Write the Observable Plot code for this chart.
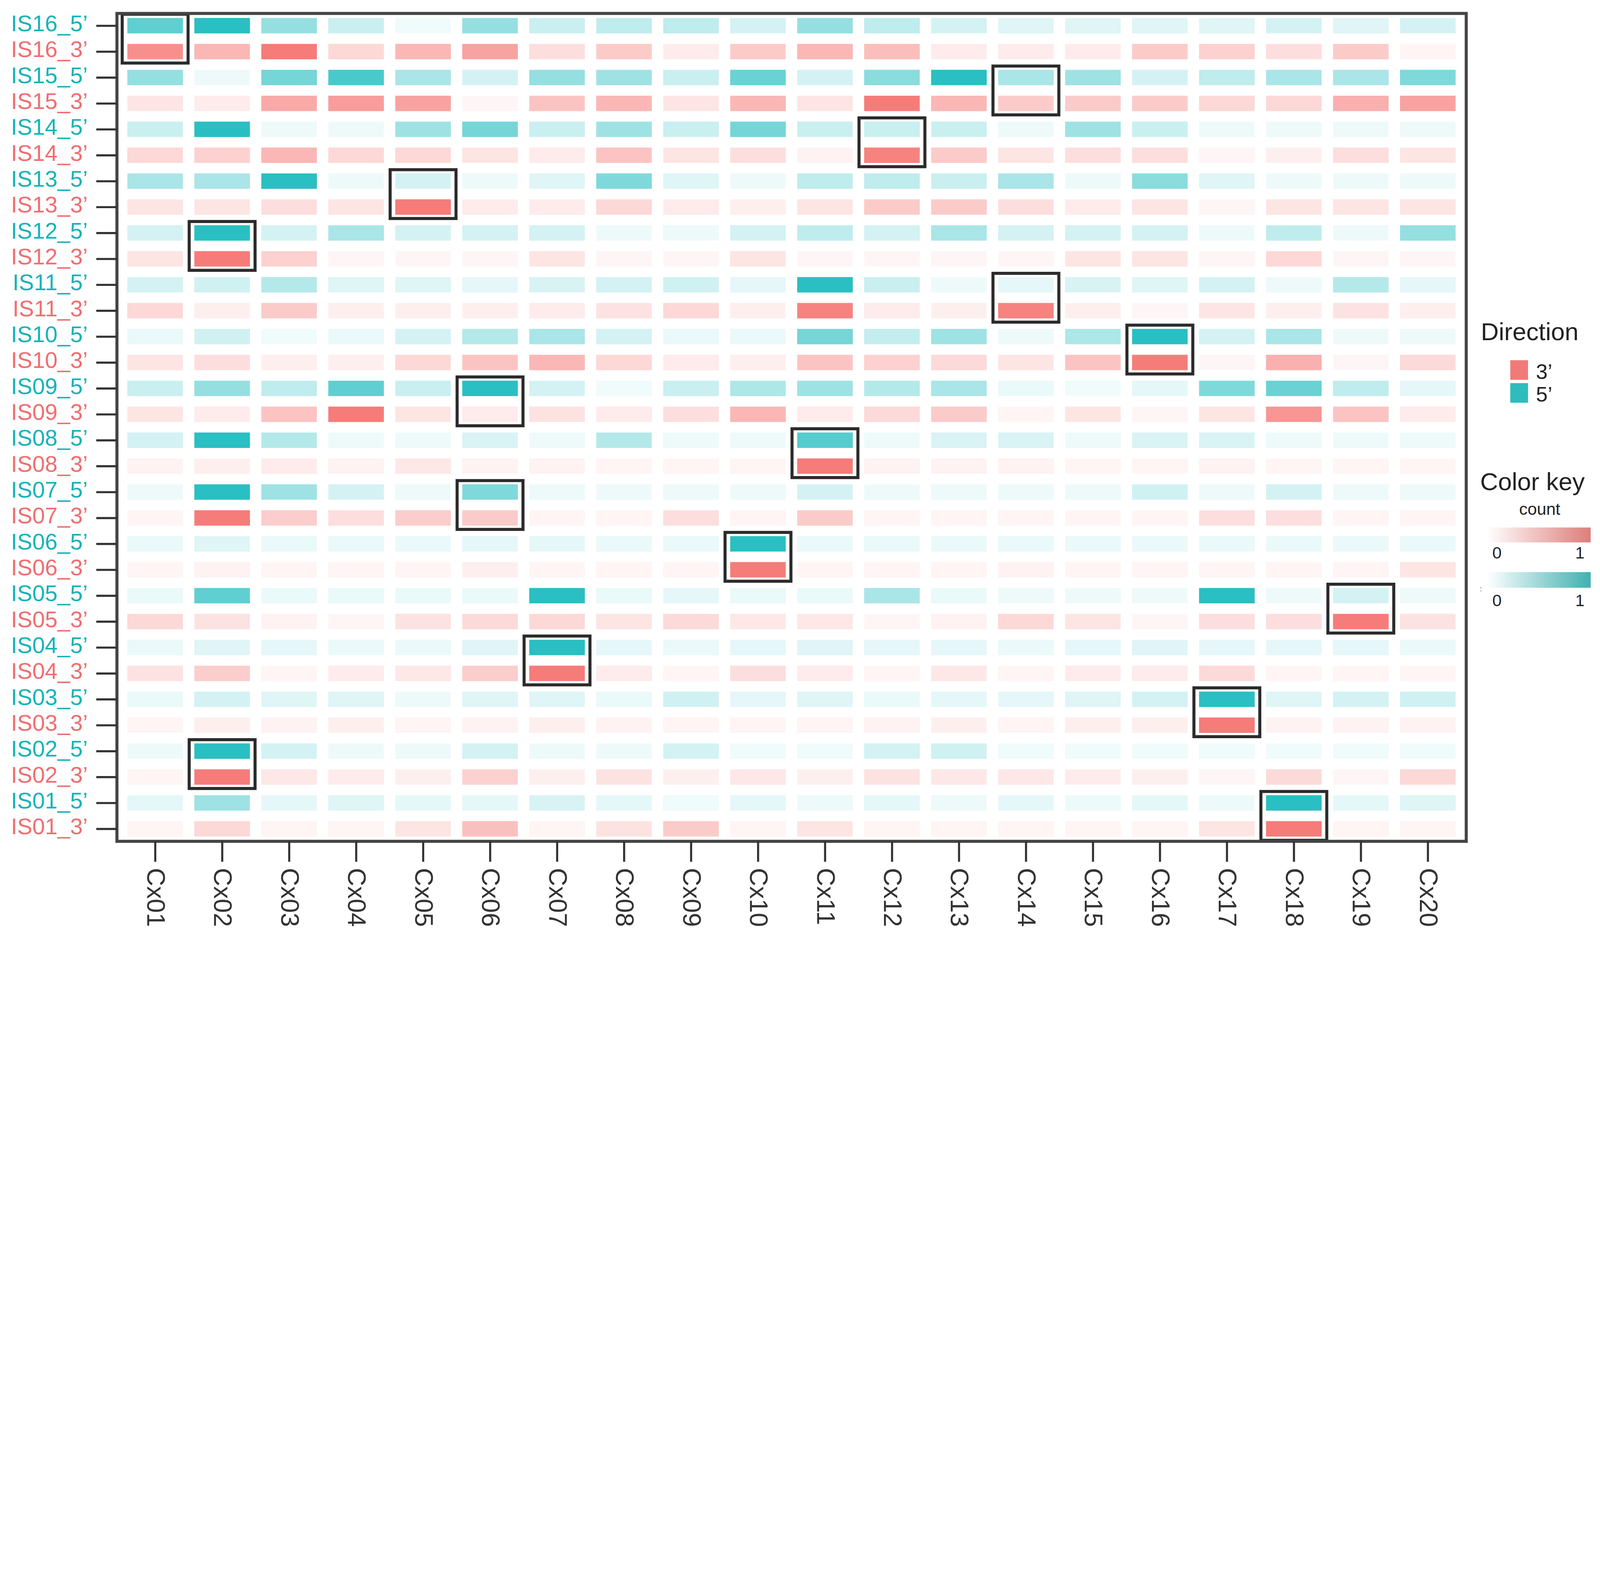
<!DOCTYPE html>
<html>
<head>
<meta charset="utf-8">
<script src="https://cdn.jsdelivr.net/npm/d3@7"></script>
<script src="https://cdn.jsdelivr.net/npm/@observablehq/plot@0.6"></script>
<style>
  html, body { margin: 0; padding: 0; background: #ffffff; overflow: hidden; }
  #wrap { width: 100vw; }
  #wrap svg { display: block; width: 100vw !important; max-width: none !important; height: auto !important; }
</style>
</head>
<body>
<div id="wrap"></div>
<script>
// ---------- data ----------
const columns = ["Cx01","Cx02","Cx03","Cx04","Cx05","Cx06","Cx07","Cx08","Cx09","Cx10",
                 "Cx11","Cx12","Cx13","Cx14","Cx15","Cx16","Cx17","Cx18","Cx19","Cx20"];
const isoforms = ["IS16","IS15","IS14","IS13","IS12","IS11","IS10","IS09",
                  "IS08","IS07","IS06","IS05","IS04","IS03","IS02","IS01"];
const directions = ["5’", "3’"];

// 5' counts, rows IS16 .. IS01, columns Cx01 .. Cx20
const counts5 = [
  [0.75,1.00,0.50,0.25,0.07,0.50,0.25,0.30,0.30,0.20,0.50,0.30,0.20,0.15,0.15,0.15,0.15,0.20,0.15,0.20],
  [0.50,0.08,0.65,0.85,0.40,0.20,0.50,0.45,0.25,0.70,0.20,0.55,1.00,0.40,0.45,0.20,0.30,0.40,0.40,0.60],
  [0.25,1.00,0.08,0.08,0.45,0.65,0.25,0.45,0.25,0.65,0.25,0.25,0.25,0.08,0.45,0.25,0.08,0.08,0.08,0.08],
  [0.40,0.40,1.00,0.08,0.20,0.08,0.15,0.60,0.15,0.08,0.30,0.30,0.25,0.40,0.08,0.55,0.15,0.08,0.08,0.08],
  [0.20,1.00,0.20,0.40,0.20,0.20,0.20,0.08,0.08,0.20,0.30,0.20,0.40,0.20,0.20,0.20,0.08,0.30,0.08,0.50],
  [0.20,0.22,0.35,0.15,0.15,0.12,0.18,0.20,0.22,0.12,1.00,0.25,0.08,0.12,0.18,0.15,0.20,0.08,0.35,0.12],
  [0.10,0.22,0.07,0.10,0.20,0.35,0.40,0.20,0.10,0.10,0.65,0.28,0.45,0.08,0.38,1.00,0.20,0.40,0.08,0.08],
  [0.25,0.50,0.30,0.75,0.25,1.00,0.20,0.07,0.25,0.38,0.45,0.35,0.40,0.10,0.07,0.12,0.60,0.70,0.30,0.12],
  [0.20,1.00,0.35,0.08,0.08,0.18,0.08,0.35,0.08,0.08,0.80,0.08,0.18,0.18,0.08,0.18,0.18,0.08,0.08,0.08],
  [0.08,1.00,0.45,0.20,0.08,0.60,0.08,0.08,0.08,0.08,0.20,0.08,0.08,0.08,0.08,0.22,0.08,0.20,0.08,0.08],
  [0.10,0.15,0.10,0.10,0.10,0.12,0.12,0.10,0.10,1.00,0.10,0.10,0.10,0.10,0.10,0.10,0.10,0.10,0.10,0.10],
  [0.10,0.75,0.10,0.10,0.10,0.10,1.00,0.10,0.12,0.10,0.10,0.40,0.10,0.08,0.08,0.08,1.00,0.08,0.20,0.08],
  [0.10,0.15,0.12,0.10,0.10,0.15,1.00,0.12,0.10,0.12,0.15,0.12,0.12,0.10,0.12,0.15,0.12,0.12,0.12,0.10],
  [0.10,0.20,0.15,0.15,0.08,0.15,0.15,0.10,0.22,0.12,0.15,0.10,0.12,0.12,0.15,0.20,1.00,0.15,0.20,0.22],
  [0.08,1.00,0.20,0.08,0.08,0.20,0.08,0.08,0.20,0.07,0.07,0.20,0.22,0.07,0.07,0.07,0.07,0.07,0.07,0.07],
  [0.12,0.45,0.12,0.15,0.12,0.12,0.18,0.12,0.07,0.12,0.08,0.12,0.08,0.12,0.08,0.12,0.08,1.00,0.12,0.15]
];

// 3' counts, rows IS16 .. IS01, columns Cx01 .. Cx20
const counts3 = [
  [0.85,0.55,1.00,0.30,0.55,0.70,0.25,0.40,0.15,0.40,0.55,0.50,0.15,0.15,0.15,0.40,0.35,0.25,0.40,0.08],
  [0.20,0.15,0.65,0.75,0.70,0.07,0.45,0.55,0.20,0.55,0.20,1.00,0.55,0.40,0.40,0.40,0.30,0.30,0.60,0.70],
  [0.30,0.35,0.55,0.30,0.30,0.20,0.15,0.45,0.20,0.25,0.10,0.95,0.40,0.20,0.25,0.25,0.07,0.12,0.25,0.20],
  [0.20,0.20,0.25,0.20,1.00,0.15,0.15,0.30,0.15,0.12,0.20,0.40,0.40,0.25,0.15,0.20,0.07,0.20,0.20,0.20],
  [0.20,1.00,0.35,0.07,0.07,0.07,0.20,0.07,0.07,0.20,0.07,0.07,0.07,0.07,0.20,0.20,0.07,0.30,0.07,0.07],
  [0.30,0.12,0.40,0.12,0.12,0.12,0.15,0.22,0.30,0.12,0.95,0.15,0.12,0.95,0.12,0.07,0.20,0.12,0.22,0.12],
  [0.20,0.25,0.12,0.12,0.30,0.45,0.55,0.30,0.15,0.12,0.45,0.35,0.28,0.20,0.45,1.00,0.07,0.60,0.07,0.28],
  [0.20,0.15,0.45,1.00,0.20,0.15,0.22,0.15,0.25,0.55,0.15,0.28,0.40,0.08,0.20,0.07,0.20,0.80,0.45,0.15],
  [0.10,0.12,0.15,0.10,0.18,0.10,0.10,0.08,0.08,0.08,1.00,0.10,0.10,0.10,0.08,0.08,0.10,0.08,0.08,0.08],
  [0.08,1.00,0.38,0.25,0.38,0.40,0.08,0.08,0.25,0.08,0.40,0.08,0.08,0.08,0.08,0.08,0.25,0.25,0.08,0.08],
  [0.08,0.10,0.08,0.08,0.08,0.12,0.08,0.08,0.08,1.00,0.08,0.08,0.08,0.10,0.08,0.08,0.08,0.08,0.08,0.20],
  [0.30,0.22,0.10,0.07,0.22,0.28,0.30,0.20,0.28,0.18,0.18,0.07,0.10,0.30,0.20,0.07,0.25,0.25,1.00,0.22],
  [0.22,0.38,0.08,0.15,0.18,0.38,1.00,0.15,0.08,0.25,0.15,0.08,0.18,0.08,0.15,0.15,0.28,0.08,0.08,0.08],
  [0.08,0.12,0.10,0.12,0.08,0.10,0.12,0.10,0.08,0.08,0.08,0.10,0.12,0.08,0.12,0.12,1.00,0.10,0.10,0.10],
  [0.08,1.00,0.18,0.15,0.12,0.35,0.12,0.22,0.12,0.18,0.12,0.22,0.18,0.18,0.15,0.12,0.07,0.28,0.07,0.30],
  [0.08,0.30,0.08,0.08,0.20,0.48,0.08,0.22,0.40,0.08,0.20,0.08,0.08,0.08,0.08,0.08,0.20,1.00,0.08,0.08]
];

// highlighted isoform / column pairs
const highlightIS = ["IS16","IS15","IS14","IS13","IS12","IS11","IS10","IS09",
                     "IS08","IS07","IS06","IS05","IS04","IS03","IS02","IS01"];
const highlightCx = ["Cx01","Cx14","Cx12","Cx05","Cx02","Cx14","Cx16","Cx06",
                     "Cx11","Cx06","Cx10","Cx19","Cx07","Cx17","Cx02","Cx18"];

// legend entries
const legendDirections = ["3’", "5’"];
const legendDirColors = ["#F07A77", "#2EBCBC"];
const rampTicks = ["0", "1"];

// ---------- derived tables ----------
const rowLabels = isoforms.flatMap(is => directions.map(d => `${is}_${d}`));
const cells = [];
isoforms.forEach((is, i) => {
  columns.forEach((cx, j) => {
    cells.push({row: `${is}_5’`, col: cx, dir: "5’", count: counts5[i][j]});
    cells.push({row: `${is}_3’`, col: cx, dir: "3’", count: counts3[i][j]});
  });
});
const boxes = highlightIS.map((is, i) => ({row: `${is}_5’`, col: highlightCx[i]}));

const FONT = "'Liberation Sans', Arial, Helvetica, sans-serif";
const TEAL_TXT = "#17b3b8", RED_TXT = "#f06e70";

const chart = Plot.plot({
  width: 6848,
  height: 4025,
  marginLeft: 500,
  marginRight: 573,
  marginTop: 57,
  marginBottom: 424,
  style: {fontFamily: FONT, background: "#ffffff"},
  x: {type: "band", domain: columns, paddingInner: 0.17, paddingOuter: 0.157, round: false, label: null, axis: null},
  y: {type: "band", domain: rowLabels, paddingInner: 0.405, paddingOuter: 0.18, round: false, label: null, axis: null},
  color: {type: "linear", domain: [-1, 0, 1], range: ["#2ABFC2", "#FFFFFF", "#F57C79"], legend: false},
  marks: [
    Plot.cell(cells, {x: "col", y: "row", fill: d => d.dir === "3’" ? d.count : -d.count}),
    Plot.cell(boxes, {x: "col", y: "row", fill: "none", stroke: "#2b2b2b", strokeWidth: 13,
      insetLeft: -22, insetRight: -22, insetTop: -16, insetBottom: -127}),
    Plot.frame({stroke: "#444444", strokeWidth: 13}),
    Plot.axisY({tickSize: 88, tickFormat: () => "", stroke: "#333333", strokeWidth: 9, label: null}),
    Plot.text(rowLabels.filter(r => r.endsWith("5’")), {y: d => d, text: d => d, frameAnchor: "left",
      textAnchor: "end", dx: -125, dy: -8, fontSize: 97, fill: TEAL_TXT}),
    Plot.text(rowLabels.filter(r => r.endsWith("3’")), {y: d => d, text: d => d, frameAnchor: "left",
      textAnchor: "end", dx: -125, dy: -8, fontSize: 97, fill: RED_TXT}),
    Plot.axisX({tickSize: 88, tickPadding: 26, tickRotate: 90, fontSize: 108, stroke: "#333333",
      strokeWidth: 9, fill: "#333333", label: null})
  ]
});

document.getElementById("wrap").appendChild(chart);

// ---------- legends (right side, inside the same SVG) ----------
const svg = d3.select(chart);
const defs = svg.append("defs");
const lg = svg.append("g").attr("font-family", FONT).attr("text-anchor", "start");
function grad(id, c) {
  const g = defs.append("linearGradient").attr("id", id)
    .attr("x1", "0").attr("x2", "1").attr("y1", "0").attr("y2", "0");
  g.append("stop").attr("offset", "0").attr("stop-color", "#ffffff");
  g.append("stop").attr("offset", "1").attr("stop-color", c);
}
grad("gRed", "#dc7e7a");
grad("gTeal", "#40b0b0");

lg.append("text").attr("x", 6338).attr("y", 1456).attr("font-size", 106).attr("fill", "#222")
  .attr("text-anchor", "start").text("Direction");
legendDirections.forEach((lab, i) => {
  const y = 1542 + i * 98;
  lg.append("rect").attr("x", 6464).attr("y", y).attr("width", 76).attr("height", 84).attr("fill", legendDirColors[i]);
  lg.append("text").attr("x", 6574).attr("y", y + 79).attr("font-size", 90).attr("fill", "#222")
    .attr("text-anchor", "start").text(lab);
});

lg.append("text").attr("x", 6335).attr("y", 2099).attr("font-size", 106).attr("fill", "#222")
  .attr("text-anchor", "start").text("Color key");
lg.append("text").attr("x", 6590).attr("y", 2204).attr("font-size", 72).attr("text-anchor", "middle").attr("fill", "#222").text("count");

const ramps = [
  {id: "gRed", y: 2258, h: 64, ly: 2391},
  {id: "gTeal", y: 2449, h: 67, ly: 2595}
];
ramps.forEach(r => {
  lg.append("rect").attr("x", 6364).attr("y", r.y).attr("width", 444).attr("height", r.h).attr("fill", `url(#${r.id})`);
  lg.append("text").attr("x", 6407).attr("y", r.ly).attr("font-size", 72).attr("text-anchor", "middle").attr("fill", "#222").text(rampTicks[0]);
  lg.append("text").attr("x", 6762).attr("y", r.ly).attr("font-size", 72).attr("text-anchor", "middle").attr("fill", "#222").text(rampTicks[1]);
});
lg.append("text").attr("x", 6334).attr("y", 2532).attr("font-size", 30).attr("fill", "#444")
  .attr("text-anchor", "start").text(":");
</script>
</body>
</html>
